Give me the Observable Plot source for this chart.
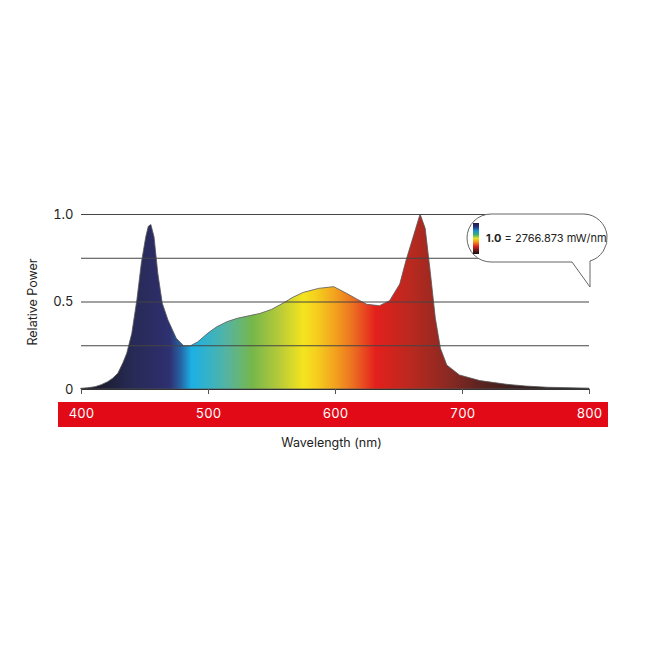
<!DOCTYPE html>
<html><head><meta charset="utf-8">
<script src="https://cdn.jsdelivr.net/npm/d3@7"></script>
<script src="https://cdn.jsdelivr.net/npm/@observablehq/plot@0.6"></script>
<style>body{margin:0;background:#fff}</style>
</head><body><div id="chart"></div>
<script>
// ---- data ----
const wavelength = [400,405,411,416,421,425,429,433,436,440,444,447.5,451,453,455,457.5,460.5,464,468.5,475,481,486,492,500,507,515,523,541,550,559,567,575,587,599,609,617,625,635,643,651,656,662,667,671,675,679,683,688,698,714,735,750,767,785,800];
const power = [0.004,0.007,0.013,0.025,0.042,0.062,0.09,0.15,0.204,0.318,0.51,0.72,0.87,0.93,0.94,0.87,0.66,0.49,0.394,0.29,0.246,0.246,0.27,0.32,0.356,0.385,0.404,0.432,0.455,0.49,0.525,0.552,0.575,0.585,0.547,0.515,0.484,0.476,0.505,0.6,0.737,0.88,1.0,0.918,0.67,0.404,0.233,0.137,0.08,0.048,0.027,0.017,0.01,0.007,0.005];
const xTicks = [400,500,600,700,800];
const yTicks = [0,0.5,1];
const gridValues = [0.25,0.5,0.75,1];
const stopWavelengths = [400,420,440,460,470,478,487,500,515,535,555,575,585,600,615,632,660,690,715,745,800];
const stopColors = ["#171724","#1e1f36","#272a55","#2c2d66","#2e3172","#2760a0","#1cb0e4","#34b2c8","#55b4a0","#76b74a","#b3c93a","#f4e41e","#f5d01e","#f2a21e","#ec6c22","#e3201c","#b8291f","#892923","#5a2320","#382020","#171414"];
const barColors = ["#1c1d4a","#25307a","#1a8fd0","#3cb070","#e8e020","#f08a1e","#e0221c","#6a1a18","#141010"];
const calloutValue = "1.0";
const calloutUnit = " = 2766.873 mW/nm";
const xLabel = "Wavelength (nm)";
const yLabel = "Relative Power";

const data = wavelength.map((wl, i) => ({wl, v: power[i]}));

// ---- helper marks ----
function defsMark(index, scales, values, dims) {
  const g = d3.create("svg:g");
  const defs = g.append("defs");
  const x0 = scales.x(400), x1 = scales.x(800);
  const lg = defs.append("linearGradient").attr("id","spectrum")
    .attr("gradientUnits","userSpaceOnUse")
    .attr("x1",x0).attr("x2",x1).attr("y1",0).attr("y2",0);
  stopWavelengths.forEach((w,i)=>lg.append("stop")
    .attr("offset",(w-400)/400).attr("stop-color",stopColors[i]));
  const bg = defs.append("linearGradient").attr("id","legendbar")
    .attr("x1",0).attr("x2",0).attr("y1",0).attr("y2",1);
  barColors.forEach((c,i)=>bg.append("stop")
    .attr("offset",i/(barColors.length-1)).attr("stop-color",c));
  return g.node();
}
function bandMark(index, scales, values, dims) {
  const g = d3.create("svg:g");
  const base = scales.y(0);
  g.append("rect")
    .attr("x", scales.x(400) - 23).attr("width", scales.x(800) - scales.x(400) + 42)
    .attr("y", base + 13).attr("height", 25)
    .attr("fill", "#e20a17");
  return g.node();
}
function calloutMark(index, scales, values, dims) {
  const g = d3.create("svg:g");
  const R = scales.x(800) + 19, T = scales.y(1), H = 48, W = 141, r = 24;
  const L = R - W, B = T + H;
  const tipX = scales.x(800) + 1;
  const path = `M${L+r},${T} H${R-r} A${r},${r} 0 0 1 ${tipX},${B-1} V${B+25} L${tipX-18},${B} H${L+r} A${r},${r} 0 0 1 ${L+r},${T} Z`;
  g.append("path").attr("d", path).attr("fill","white").attr("stroke","#666").attr("stroke-width",1);
  g.append("rect").attr("x", L+6).attr("y", T+9).attr("width",6).attr("height",31).attr("fill","url(#legendbar)");
  const t = g.append("text").attr("x", L+19).attr("y", T+24).attr("dy","0.35em")
    .attr("text-anchor","start").attr("font-size", 11).attr("fill","#222");
  t.append("tspan").attr("font-weight","bold").text(calloutValue);
  t.append("tspan").text(calloutUnit);
  return g.node();
}

const chart = Plot.plot({
  width: 650, height: 650,
  marginLeft: 81, marginRight: 61, marginTop: 214, marginBottom: 261,
  x: {domain: [400, 800]},
  y: {domain: [0, 1]},
  style: {fontFamily: "Inter, 'Noto Sans', sans-serif", fontSize: "12.5px", color: "#222", background: "white"},
  marks: [
    defsMark,
    bandMark,
    Plot.areaY(data, {x: "wl", y: "v", fill: "url(#spectrum)", stroke: "#555", strokeWidth: 0.8}),
    Plot.ruleY(gridValues, {stroke: "#444", strokeWidth: 1}),
    Plot.ruleY([0], {stroke: "#333", strokeWidth: 1}),
    Plot.axisX({ticks: xTicks, tickSize: 5, text: null, stroke: "#555", label: null}),
    Plot.axisX({ticks: xTicks, tickSize: 0, tickPadding: 19, fill: "white", fontSize: 13, label: null}),
    Plot.axisY({ticks: yTicks, tickSize: 0, tickPadding: 8, fontSize: 13, label: null,
      tickFormat: d => d === 0 ? "0" : d.toFixed(1)}),
    Plot.text([yLabel], {frameAnchor: "left", textAnchor: "middle", rotate: -90, dx: -49, fontSize: 12.5, fill: "#222"}),
    Plot.text([xLabel], {frameAnchor: "bottom", dy: 57, dx: -4, fontSize: 12.5, fill: "#222"}),
    calloutMark
  ]
});
document.getElementById("chart").append(chart);
</script>
</body></html>
